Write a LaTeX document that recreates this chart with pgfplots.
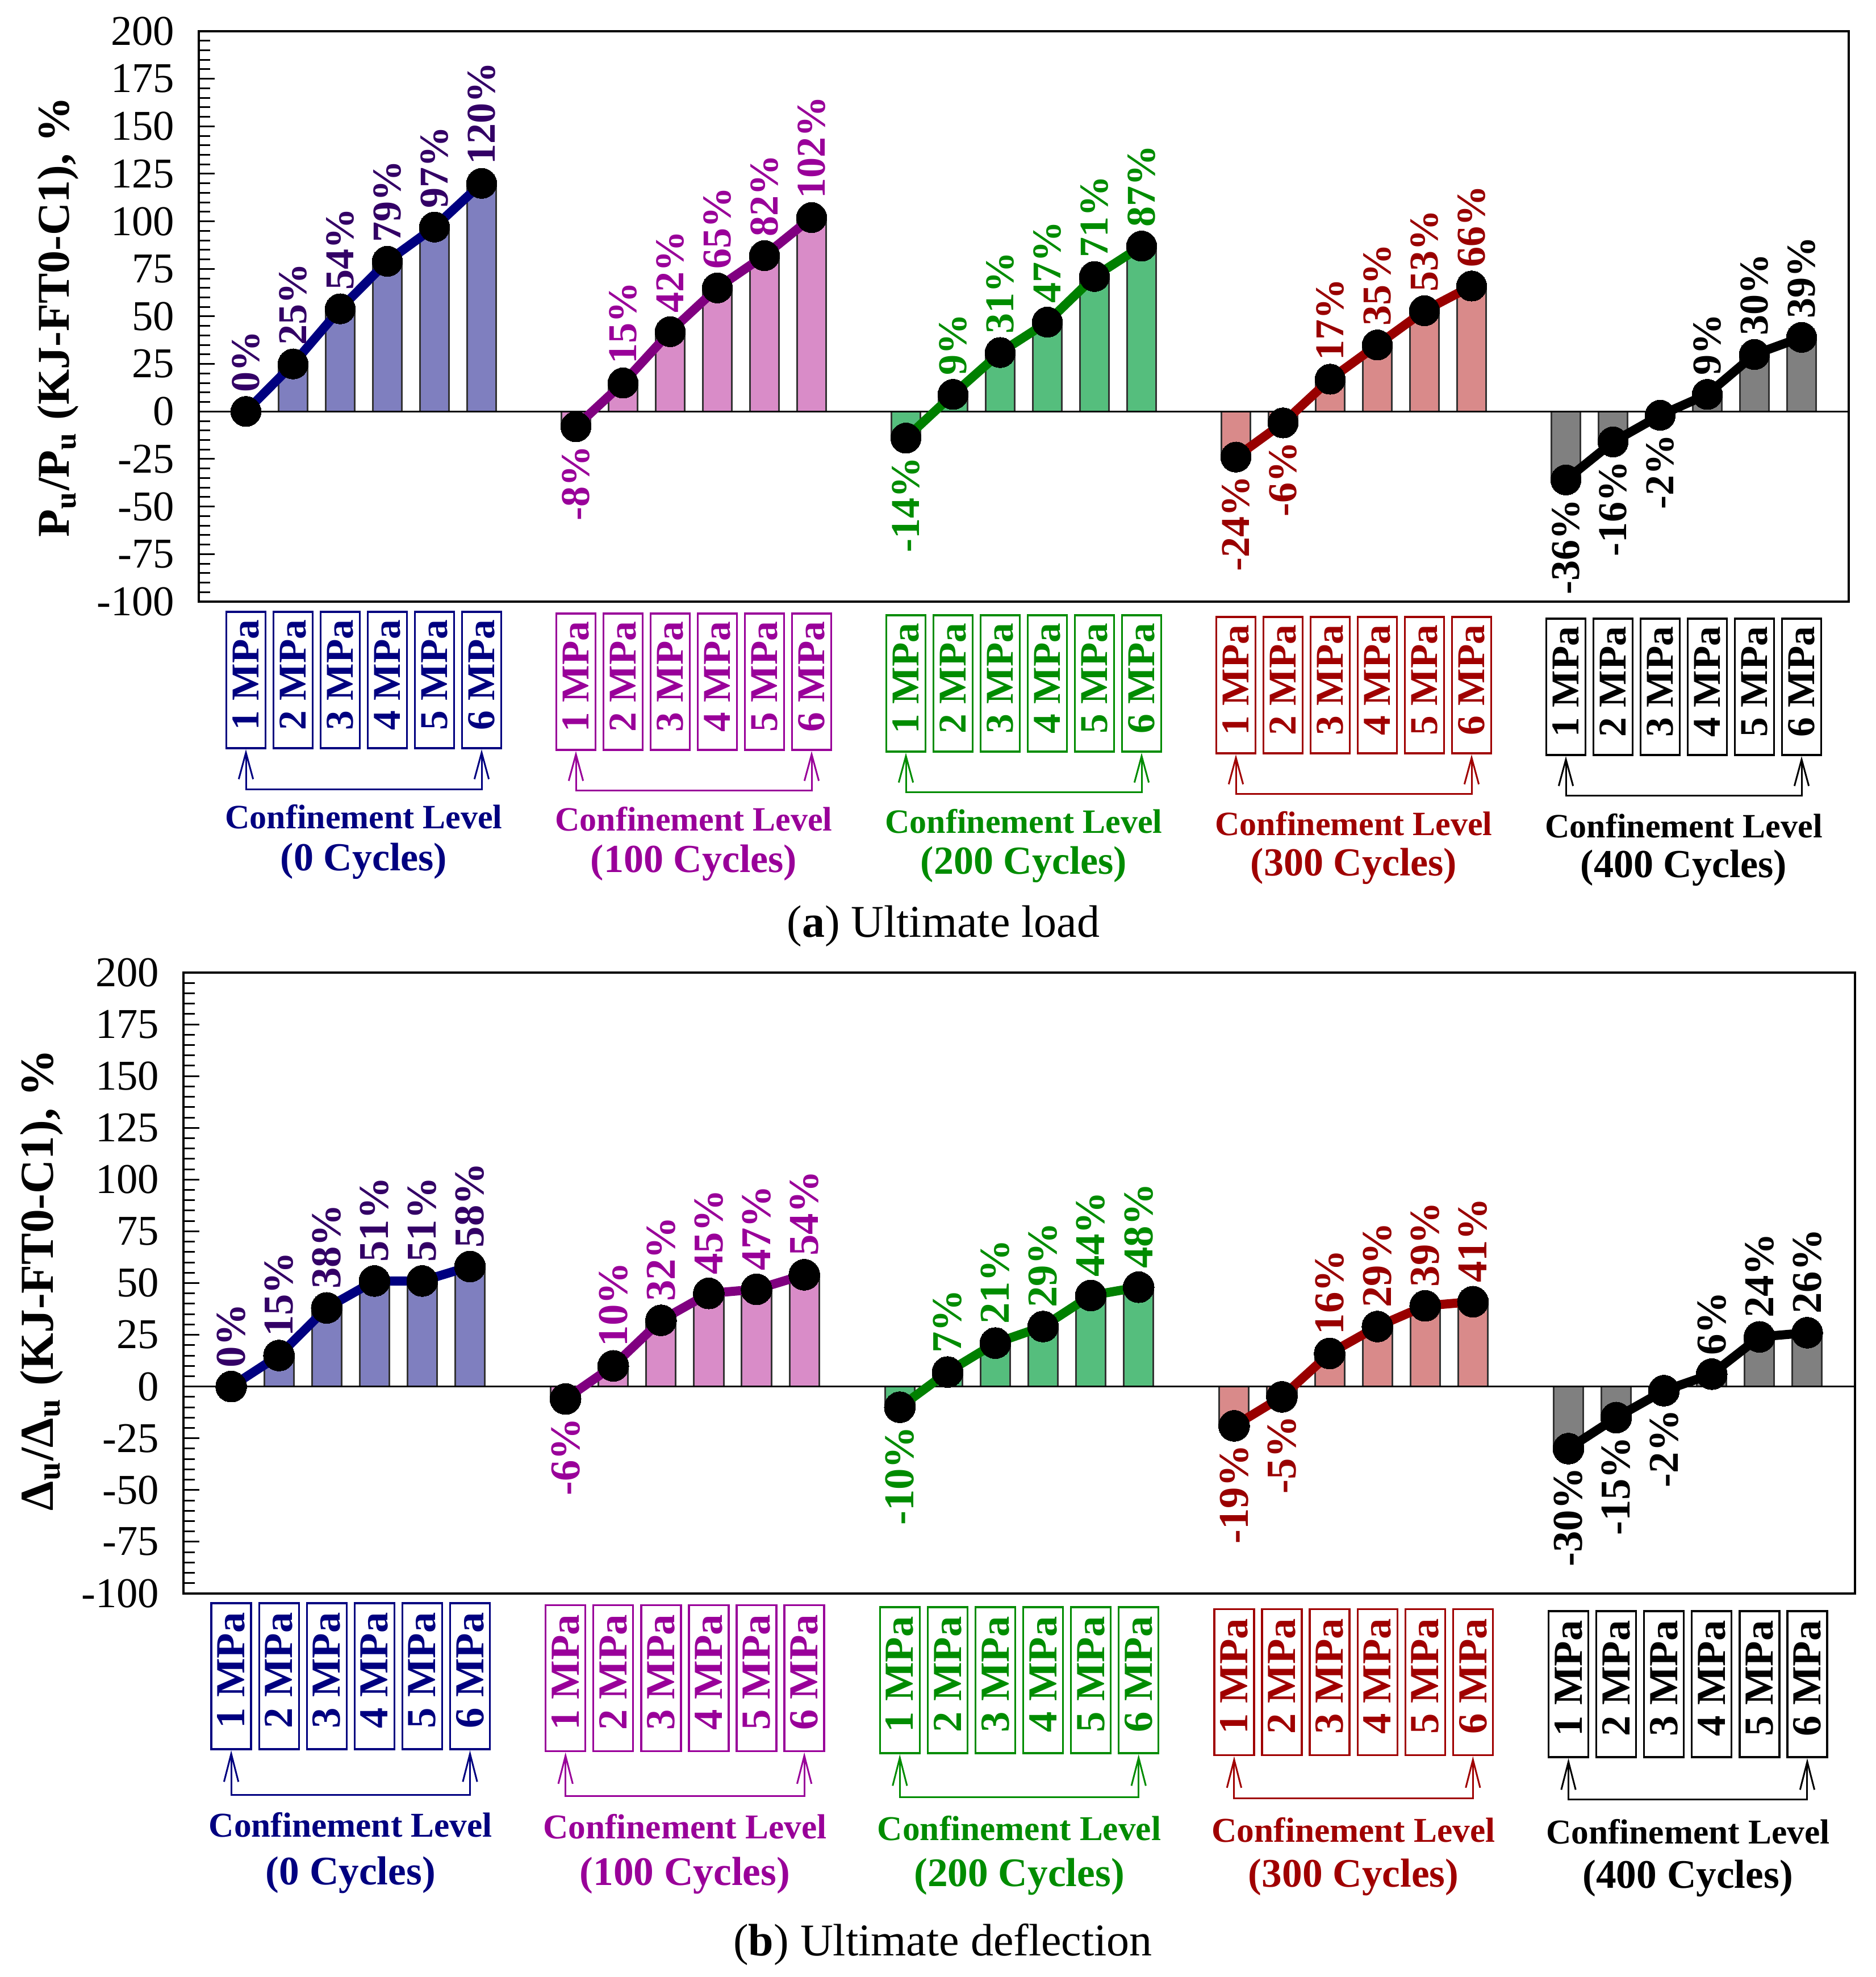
\documentclass[border=0pt]{standalone}
\usepackage{fontspec}
\setmainfont{Liberation Serif}
\usepackage{pgfplots}
\pgfplotsset{compat=1.18}
\usepackage{pgfplotstable}
\usetikzlibrary{arrows.meta}

\definecolor{c0bar}{RGB}{127,127,191}
\definecolor{c1bar}{RGB}{217,140,200}
\definecolor{c2bar}{RGB}{85,190,125}
\definecolor{c3bar}{RGB}{217,138,138}
\definecolor{c4bar}{RGB}{128,128,128}
\definecolor{c0line}{RGB}{0,0,128}
\definecolor{c1line}{RGB}{128,0,128}
\definecolor{c2line}{RGB}{0,128,0}
\definecolor{c3line}{RGB}{153,0,0}
\definecolor{c4line}{RGB}{0,0,0}
\definecolor{c0lab}{RGB}{51,0,102}
\definecolor{c1lab}{RGB}{153,0,153}
\definecolor{c2lab}{RGB}{0,140,0}
\definecolor{c3lab}{RGB}{153,0,0}
\definecolor{c4lab}{RGB}{0,0,0}
\definecolor{c0box}{RGB}{0,0,128}
\definecolor{c1box}{RGB}{153,0,153}
\definecolor{c2box}{RGB}{0,140,0}
\definecolor{c3box}{RGB}{160,0,0}
\definecolor{c4box}{RGB}{0,0,0}
\definecolor{barEdge}{RGB}{51,51,51}

\newcommand\labA{\bfseries\fontsize{10.8}{12}\selectfont}
\newcommand\labB{\bfseries\fontsize{11.2}{12}\selectfont}
\newcommand\boxA{\bfseries\fontsize{10.4}{12}\selectfont}
\newcommand\boxB{\bfseries\fontsize{10.9}{12}\selectfont}
\newcommand\confA{\bfseries\fontsize{9}{11}\selectfont}
\newcommand\confB{\bfseries\fontsize{9.2}{11}\selectfont}
\newcommand\cycA{\bfseries\fontsize{10.5}{12}\selectfont}
\newcommand\cycB{\bfseries\fontsize{10.7}{12}\selectfont}

% ---- (a) Ultimate load ----
\pgfplotstableread{
x y
0 0
1 25
2 54
3 79
4 97
5 120
}\TA
\pgfplotstableread{
x y
7 -8
8 15
9 42
10 65
11 82
12 102
}\TB
\pgfplotstableread{
x y
14 -14
15 9
16 31
17 47
18 71
19 87
}\TC
\pgfplotstableread{
x y
21 -24
22 -6
23 17
24 35
25 53
26 66
}\TD
\pgfplotstableread{
x y
28 -36
29 -16
30 -2
31 9
32 30
33 39
}\TE
% ---- (b) Ultimate deflection ----
\pgfplotstableread{
x y
0 0
1 15
2 38
3 51
4 51
5 58
}\BA
\pgfplotstableread{
x y
7 -6
8 10
9 32
10 45
11 47
12 54
}\BB
\pgfplotstableread{
x y
14 -10
15 7
16 21
17 29
18 44
19 48
}\BC
\pgfplotstableread{
x y
21 -19
22 -5
23 16
24 29
25 39
26 41
}\BD
\pgfplotstableread{
x y
28 -30
29 -15
30 -2
31 6
32 24
33 26
}\BE

\pgfplotsset{
  common/.style={anchor=south west, scale only axis,
    xmin=-1, xmax=34, ymin=-100, ymax=200,
    xtick=\empty,
    ytick={-100,-75,-50,-25,0,25,50,75,100,125,150,175,200},
    yticklabels={-100,-75,-50,-25,0,25,50,75,100,125,150,175,200},
    minor y tick num=4, ytick pos=left, tick align=inside,
    major tick length=4.2pt, minor tick length=3pt,
    every tick/.style={black, line width=0.45pt},
    axis line style={line width=0.6pt},
    yticklabel style={font=\fontsize{11.2}{13}\selectfont, xshift=-2.9pt},
    clip=false},
  mybar/.style={ybar, bar shift=0pt, bar width=0.62, fill=#1, draw=barEdge, line width=0.45pt},
  myline/.style 2 args={color=#1, line width=2.4pt, mark=*, mark size=#2,
    mark options={fill=black, draw=black, solid, line width=0pt}},
  poslab/.style 2 args={draw=none, mark=none, restrict y to domain=0:500,
    point meta=explicit symbolic, nodes near coords={\pgfplotspointmeta\%},
    nodes near coords style={rotate=90, anchor=west, text=#1, font=#2, inner xsep=4.8pt, inner ysep=0pt}},
  neglab/.style 2 args={draw=none, mark=none, restrict y to domain=-500:-0.5,
    point meta=explicit symbolic, nodes near coords={\pgfplotspointmeta\%},
    nodes near coords style={rotate=90, anchor=east, text=#1, font=#2, inner xsep=4.8pt, inner ysep=0pt}},
}

\begin{document}
\begin{tikzpicture}[x=1pt,y=1pt]
\path[use as bounding box] (0,0) rectangle (495.3,522);

% ================= (a) =================
\begin{axis}[common, at={(52.5pt,363.15pt)}, width=435.75pt, height=150.6pt]
\addplot[mybar=c0bar] table[x=x,y=y]{\TA};
\addplot[mybar=c1bar] table[x=x,y=y]{\TB};
\addplot[mybar=c2bar] table[x=x,y=y]{\TC};
\addplot[mybar=c3bar] table[x=x,y=y]{\TD};
\addplot[mybar=c4bar] table[x=x,y=y]{\TE};
\draw[black, line width=0.5pt] (axis cs:-1,0) -- (axis cs:34,0);
\addplot[myline={c0line}{4pt}] table[x=x,y=y]{\TA};
\addplot[myline={c1line}{4pt}] table[x=x,y=y]{\TB};
\addplot[myline={c2line}{4pt}] table[x=x,y=y]{\TC};
\addplot[myline={c3line}{4pt}] table[x=x,y=y]{\TD};
\addplot[myline={c4line}{4pt}] table[x=x,y=y]{\TE};
\addplot[poslab={c0lab}{\labA}] table[x=x,y=y,meta=y]{\TA};
\addplot[poslab={c1lab}{\labA}] table[x=x,y=y,meta=y]{\TB};
\addplot[neglab={c1lab}{\labA}] table[x=x,y=y,meta=y]{\TB};
\addplot[poslab={c2lab}{\labA}] table[x=x,y=y,meta=y]{\TC};
\addplot[neglab={c2lab}{\labA}] table[x=x,y=y,meta=y]{\TC};
\addplot[poslab={c3lab}{\labA}] table[x=x,y=y,meta=y]{\TD};
\addplot[neglab={c3lab}{\labA}] table[x=x,y=y,meta=y]{\TD};
\addplot[poslab={c4lab}{\labA}] table[x=x,y=y,meta=y]{\TE};
\addplot[neglab={c4lab}{\labA}] table[x=x,y=y,meta=y]{\TE};
\end{axis}

% ================= (b) =================
\begin{axis}[common, at={(48.45pt,101.25pt)}, width=441.45pt, height=163.95pt]
\addplot[mybar=c0bar] table[x=x,y=y]{\BA};
\addplot[mybar=c1bar] table[x=x,y=y]{\BB};
\addplot[mybar=c2bar] table[x=x,y=y]{\BC};
\addplot[mybar=c3bar] table[x=x,y=y]{\BD};
\addplot[mybar=c4bar] table[x=x,y=y]{\BE};
\draw[black, line width=0.5pt] (axis cs:-1,0) -- (axis cs:34,0);
\addplot[myline={c0line}{4.1pt}] table[x=x,y=y]{\BA};
\addplot[myline={c1line}{4.1pt}] table[x=x,y=y]{\BB};
\addplot[myline={c2line}{4.1pt}] table[x=x,y=y]{\BC};
\addplot[myline={c3line}{4.1pt}] table[x=x,y=y]{\BD};
\addplot[myline={c4line}{4.1pt}] table[x=x,y=y]{\BE};
\addplot[poslab={c0lab}{\labB}] table[x=x,y=y,meta=y]{\BA};
\addplot[poslab={c1lab}{\labB}] table[x=x,y=y,meta=y]{\BB};
\addplot[neglab={c1lab}{\labB}] table[x=x,y=y,meta=y]{\BB};
\addplot[poslab={c2lab}{\labB}] table[x=x,y=y,meta=y]{\BC};
\addplot[neglab={c2lab}{\labB}] table[x=x,y=y,meta=y]{\BC};
\addplot[poslab={c3lab}{\labB}] table[x=x,y=y,meta=y]{\BD};
\addplot[neglab={c3lab}{\labB}] table[x=x,y=y,meta=y]{\BD};
\addplot[poslab={c4lab}{\labB}] table[x=x,y=y,meta=y]{\BE};
\addplot[neglab={c4lab}{\labB}] table[x=x,y=y,meta=y]{\BE};
\end{axis}

% y labels
\node[rotate=90, font=\bfseries\fontsize{12}{14}\selectfont] at (15.3,438.3)
  {P\textsubscript{u}/P\textsubscript{u} (KJ-FT0-C1), \%};
\node[rotate=90, font=\bfseries\fontsize{12.5}{14}\selectfont] at (10.95,184.05)
  {Δ\textsubscript{u}/Δ\textsubscript{u} (KJ-FT0-C1), \%};

% decorations under (a)
\foreach \g/\col/\cyc in {0/c0box/0,1/c1box/100,2/c2box/200,3/c3box/300,4/c4box/400}{
  \pgfmathsetmacro\bt{(3480-(1077+3*\g))*0.15}
  \pgfmathsetmacro\bb{\bt-36}
  \pgfmathsetmacro\hl{(3480-(1389+2.75*\g))*0.15}
  \pgfmathsetmacro\cya{(3480-(1438+4*\g))*0.15}
  \pgfmathsetmacro\cyb{(3480-(1516+3*\g))*0.15}
  \pgfmathsetmacro\gc{52.5+(7*\g+3.5)*12.45}
  \pgfmathsetmacro\xa{52.5+(7*\g+1)*12.45}
  \pgfmathsetmacro\xb{52.5+(7*\g+6)*12.45}
  \foreach \i in {1,...,6}{
    \pgfmathsetmacro\bx{52.5+(7*\g+\i)*12.45}
    \draw[\col, line width=0.5pt] (\bx-5.175,\bb) rectangle (\bx+5.175,\bt);
    \node[rotate=90, text=\col, font=\boxA, inner sep=0pt] at (\bx,\bb+19.35) {\i\ MPa};
  }
  \draw[\col, line width=0.45pt, {Straight Barb[length=7pt,width=3.8pt]}-{Straight Barb[length=7pt,width=3.8pt]}]
    (\xa,\bb-0.3) -- (\xa,\hl) -- (\xb,\hl) -- (\xb,\bb-0.3);
  \node[text=\col, font=\confA] at (\gc,\cya) {Confinement Level};
  \node[text=\col, font=\cycA] at (\gc,\cyb) {(\cyc\ Cycles)};
}

% decorations under (b)
\foreach \g/\col/\cyc in {0/c0box/0,1/c1box/100,2/c2box/200,3/c3box/300,4/c4box/400}{
  \pgfmathsetmacro\bt{(3480-(2822+3.5*\g))*0.15}
  \pgfmathsetmacro\bb{\bt-38.55}
  \pgfmathsetmacro\hl{(3480-(3159+2*\g))*0.15}
  \pgfmathsetmacro\cya{(3480-(3212+3*\g))*0.15}
  \pgfmathsetmacro\cyb{(3480-(3300+1.5*\g))*0.15}
  \pgfmathsetmacro\gc{48.45+(7*\g+3.5)*12.613}
  \pgfmathsetmacro\xa{48.45+(7*\g+1)*12.613}
  \pgfmathsetmacro\xb{48.45+(7*\g+6)*12.613}
  \foreach \i in {1,...,6}{
    \pgfmathsetmacro\bx{48.45+(7*\g+\i)*12.613}
    \draw[\col, line width=0.5pt] (\bx-5.25,\bb) rectangle (\bx+5.25,\bt);
    \node[rotate=90, text=\col, font=\boxB, inner sep=0pt] at (\bx,\bb+20.8) {\i\ MPa};
  }
  \draw[\col, line width=0.45pt, {Straight Barb[length=7.4pt,width=3.8pt]}-{Straight Barb[length=7.4pt,width=3.8pt]}]
    (\xa,\bb-0.3) -- (\xa,\hl) -- (\xb,\hl) -- (\xb,\bb-0.3);
  \node[text=\col, font=\confB] at (\gc,\cya) {Confinement Level};
  \node[text=\col, font=\cycB] at (\gc,\cyb) {(\cyc\ Cycles)};
}

% captions
\node[font=\fontsize{12}{14}\selectfont] at (249.15,277.5) {(\textbf{a}) Ultimate load};
\node[font=\fontsize{12}{14}\selectfont] at (249.0,8.55) {(\textbf{b}) Ultimate deflection};
\end{tikzpicture}
\end{document}
